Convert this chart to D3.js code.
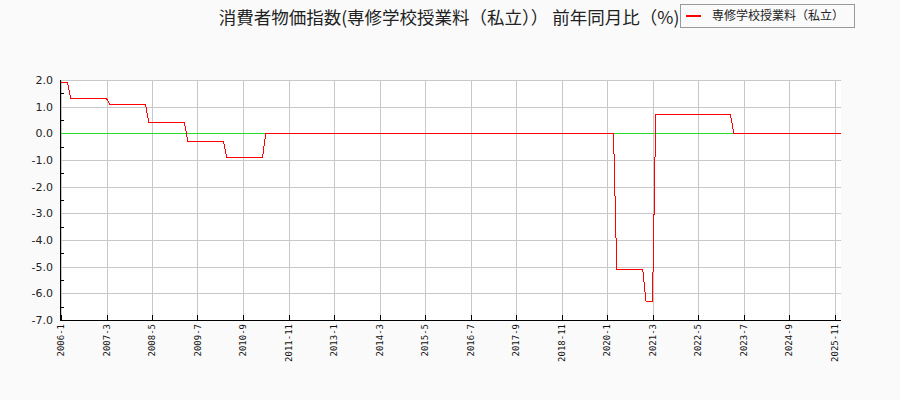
<!DOCTYPE html>
<html>
<head>
<meta charset="utf-8">
<script src="https://cdn.jsdelivr.net/npm/d3@7"></script>
<style>
  body { margin: 0; background: #fafafa; }
  svg { display: block; }
</style>
</head>
<body>
<div id="chart"></div>
<script>
// monthly values, 2006-1 .. 2026-1 (前年同月比 %)
const startYear = 2006;
const values = [
  1.9, 1.9, 1.9, 1.3, 1.3, 1.3, 1.3, 1.3, 1.3, 1.3, 1.3, 1.3,       // 2006
  1.3, 1.3, 1.3, 1.1, 1.1, 1.1, 1.1, 1.1, 1.1, 1.1, 1.1, 1.1,       // 2007
  1.1, 1.1, 1.1, 0.4, 0.4, 0.4, 0.4, 0.4, 0.4, 0.4, 0.4, 0.4,       // 2008
  0.4, 0.4, 0.4, -0.3, -0.3, -0.3, -0.3, -0.3, -0.3, -0.3, -0.3, -0.3, // 2009
  -0.3, -0.3, -0.3, -0.9, -0.9, -0.9, -0.9, -0.9, -0.9, -0.9, -0.9, -0.9, // 2010
  -0.9, -0.9, -0.9, 0.0, 0.0, 0.0, 0.0, 0.0, 0.0, 0.0, 0.0, 0.0,    // 2011
  0.0, 0.0, 0.0, 0.0, 0.0, 0.0, 0.0, 0.0, 0.0, 0.0, 0.0, 0.0,       // 2012
  0.0, 0.0, 0.0, 0.0, 0.0, 0.0, 0.0, 0.0, 0.0, 0.0, 0.0, 0.0,       // 2013
  0.0, 0.0, 0.0, 0.0, 0.0, 0.0, 0.0, 0.0, 0.0, 0.0, 0.0, 0.0,       // 2014
  0.0, 0.0, 0.0, 0.0, 0.0, 0.0, 0.0, 0.0, 0.0, 0.0, 0.0, 0.0,       // 2015
  0.0, 0.0, 0.0, 0.0, 0.0, 0.0, 0.0, 0.0, 0.0, 0.0, 0.0, 0.0,       // 2016
  0.0, 0.0, 0.0, 0.0, 0.0, 0.0, 0.0, 0.0, 0.0, 0.0, 0.0, 0.0,       // 2017
  0.0, 0.0, 0.0, 0.0, 0.0, 0.0, 0.0, 0.0, 0.0, 0.0, 0.0, 0.0,       // 2018
  0.0, 0.0, 0.0, 0.0, 0.0, 0.0, 0.0, 0.0, 0.0, 0.0, 0.0, 0.0,       // 2019
  0.0, 0.0, 0.0, -5.1, -5.1, -5.1, -5.1, -5.1, -5.1, -5.1, -5.1, -5.1, // 2020
  -6.3, -6.3, -6.3, 0.7, 0.7, 0.7, 0.7, 0.7, 0.7, 0.7, 0.7, 0.7,   // 2021
  0.7, 0.7, 0.7, 0.7, 0.7, 0.7, 0.7, 0.7, 0.7, 0.7, 0.7, 0.7,       // 2022
  0.7, 0.7, 0.7, 0.0, 0.0, 0.0, 0.0, 0.0, 0.0, 0.0, 0.0, 0.0,       // 2023
  0.0, 0.0, 0.0, 0.0, 0.0, 0.0, 0.0, 0.0, 0.0, 0.0, 0.0, 0.0,       // 2024
  0.0, 0.0, 0.0, 0.0, 0.0, 0.0, 0.0, 0.0, 0.0, 0.0, 0.0, 0.0,       // 2025
  0.0                                                              // 2026
];

const xTickLabels = ["2006-1", "2007-3", "2008-5", "2009-7", "2010-9", "2011-11", "2013-1",
  "2014-3", "2015-5", "2016-7", "2017-9", "2018-11", "2020-1", "2021-3", "2022-5",
  "2023-7", "2024-9", "2025-11"];
const yTicks = [2, 1, 0, -1, -2, -3, -4, -5, -6, -7];
const yMinorTicks = [1.5, 0.5, -0.5, -1.5, -2.5, -3.5, -4.5, -5.5, -6.5];

const titleText = "消費者物価指数(専修学校授業料（私立）） 前年同月比（%)";
const seriesName = "専修学校授業料（私立）";

const width = 900, height = 400;
const plotLeft = 60, plotRight = 841, plotTop = 80, plotBottom = 320;

function monthIndex(label) {
  const [yr, m] = label.split("-").map(Number);
  return (yr - startYear) * 12 + (m - 1);
}

const svg = d3.select("#chart").append("svg")
  .attr("width", width)
  .attr("height", height);

svg.append("rect").attr("width", width).attr("height", height).attr("fill", "#fafafa");

const x = d3.scaleLinear().domain([0, values.length - 1]).range([plotLeft + 1, plotRight]);
const y = d3.scaleLinear().domain([-7, 2]).range([plotBottom, plotTop]);

// plot area
svg.append("rect")
  .attr("x", plotLeft).attr("y", plotTop)
  .attr("width", plotRight - plotLeft).attr("height", plotBottom - plotTop)
  .attr("fill", "#ffffff");

// grid
const grid = svg.append("g").attr("shape-rendering", "crispEdges");
grid.selectAll("line.h")
  .data(yTicks)
  .join("line")
  .attr("class", "h")
  .attr("x1", plotLeft).attr("x2", plotRight)
  .attr("y1", d => Math.round(y(d)) + 0.5).attr("y2", d => Math.round(y(d)) + 0.5)
  .attr("stroke", "#c8c8c8");
grid.selectAll("line.v")
  .data(xTickLabels)
  .join("line")
  .attr("class", "v")
  .attr("x1", d => Math.round(x(monthIndex(d))) + 0.5).attr("x2", d => Math.round(x(monthIndex(d))) + 0.5)
  .attr("y1", plotTop).attr("y2", plotBottom)
  .attr("stroke", "#c8c8c8");

// zero line
svg.append("line")
  .attr("x1", plotLeft).attr("x2", plotRight)
  .attr("y1", Math.round(y(0)) + 0.5).attr("y2", Math.round(y(0)) + 0.5)
  .attr("stroke", "#22dd22")
  .attr("shape-rendering", "crispEdges");

// series
const line = d3.line()
  .x((d, i) => x(i))
  .y(d => y(d));

svg.append("path")
  .datum(values)
  .attr("d", line)
  .attr("fill", "none")
  .attr("stroke", "#ff0000")
  .attr("stroke-width", 1)
  .attr("shape-rendering", "crispEdges");

// y axis
const yAxis = svg.append("g").attr("shape-rendering", "crispEdges");
yAxis.append("line")
  .attr("x1", plotLeft + 0.5).attr("x2", plotLeft + 0.5)
  .attr("y1", plotTop).attr("y2", plotBottom + 1)
  .attr("stroke", "#000");
yAxis.selectAll("line.minor")
  .data(yMinorTicks)
  .join("line")
  .attr("class", "minor")
  .attr("x1", plotLeft).attr("x2", plotLeft + 4)
  .attr("y1", d => Math.round(y(d)) + 0.5).attr("y2", d => Math.round(y(d)) + 0.5)
  .attr("stroke", "#000");
yAxis.selectAll("text")
  .data(yTicks)
  .join("text")
  .attr("x", plotLeft - 7)
  .attr("y", d => y(d))
  .attr("dy", "0.35em")
  .attr("text-anchor", "end")
  .attr("font-family", "DejaVu Sans")
  .attr("font-size", 11)
  .attr("fill", "#222")
  .text(d => d.toFixed(1));

// x axis
const xAxis = svg.append("g").attr("shape-rendering", "crispEdges");
xAxis.append("line")
  .attr("x1", plotLeft).attr("x2", plotRight)
  .attr("y1", plotBottom + 0.5).attr("y2", plotBottom + 0.5)
  .attr("stroke", "#000");
xAxis.selectAll("line.tick")
  .data(xTickLabels)
  .join("line")
  .attr("class", "tick")
  .attr("x1", d => Math.round(x(monthIndex(d))) + 0.5).attr("x2", d => Math.round(x(monthIndex(d))) + 0.5)
  .attr("y1", plotBottom - 5).attr("y2", plotBottom)
  .attr("stroke", "#000");
xAxis.selectAll("text")
  .data(xTickLabels)
  .join("text")
  .attr("transform", d => `translate(${x(monthIndex(d)) + 3.3},${plotBottom + 4}) rotate(-90)`)
  .attr("text-anchor", "end")
  .attr("font-family", "DejaVu Sans Mono")
  .attr("font-size", 9)
  .attr("fill", "#111")
  .text(d => d);

// title
svg.append("text")
  .attr("x", 449)
  .attr("y", 24)
  .attr("text-anchor", "middle")
  .attr("font-family", "Noto Sans CJK JP")
  .attr("font-size", 17.5)
  .attr("fill", "#222")
  .text(titleText);

// legend
const legend = svg.append("g");
legend.append("rect")
  .attr("x", 680.5).attr("y", 4.5)
  .attr("width", 174).attr("height", 23)
  .attr("fill", "#fafafa")
  .attr("stroke", "#999");
legend.append("line")
  .attr("x1", 686).attr("x2", 701)
  .attr("y1", 16).attr("y2", 16)
  .attr("stroke", "#ff0000")
  .attr("stroke-width", 2);
legend.append("text")
  .attr("x", 712)
  .attr("y", 16)
  .attr("dy", "0.35em")
  .attr("font-family", "Noto Sans CJK JP")
  .attr("font-size", 12)
  .attr("fill", "#222")
  .text(seriesName);
</script>
</body>
</html>
